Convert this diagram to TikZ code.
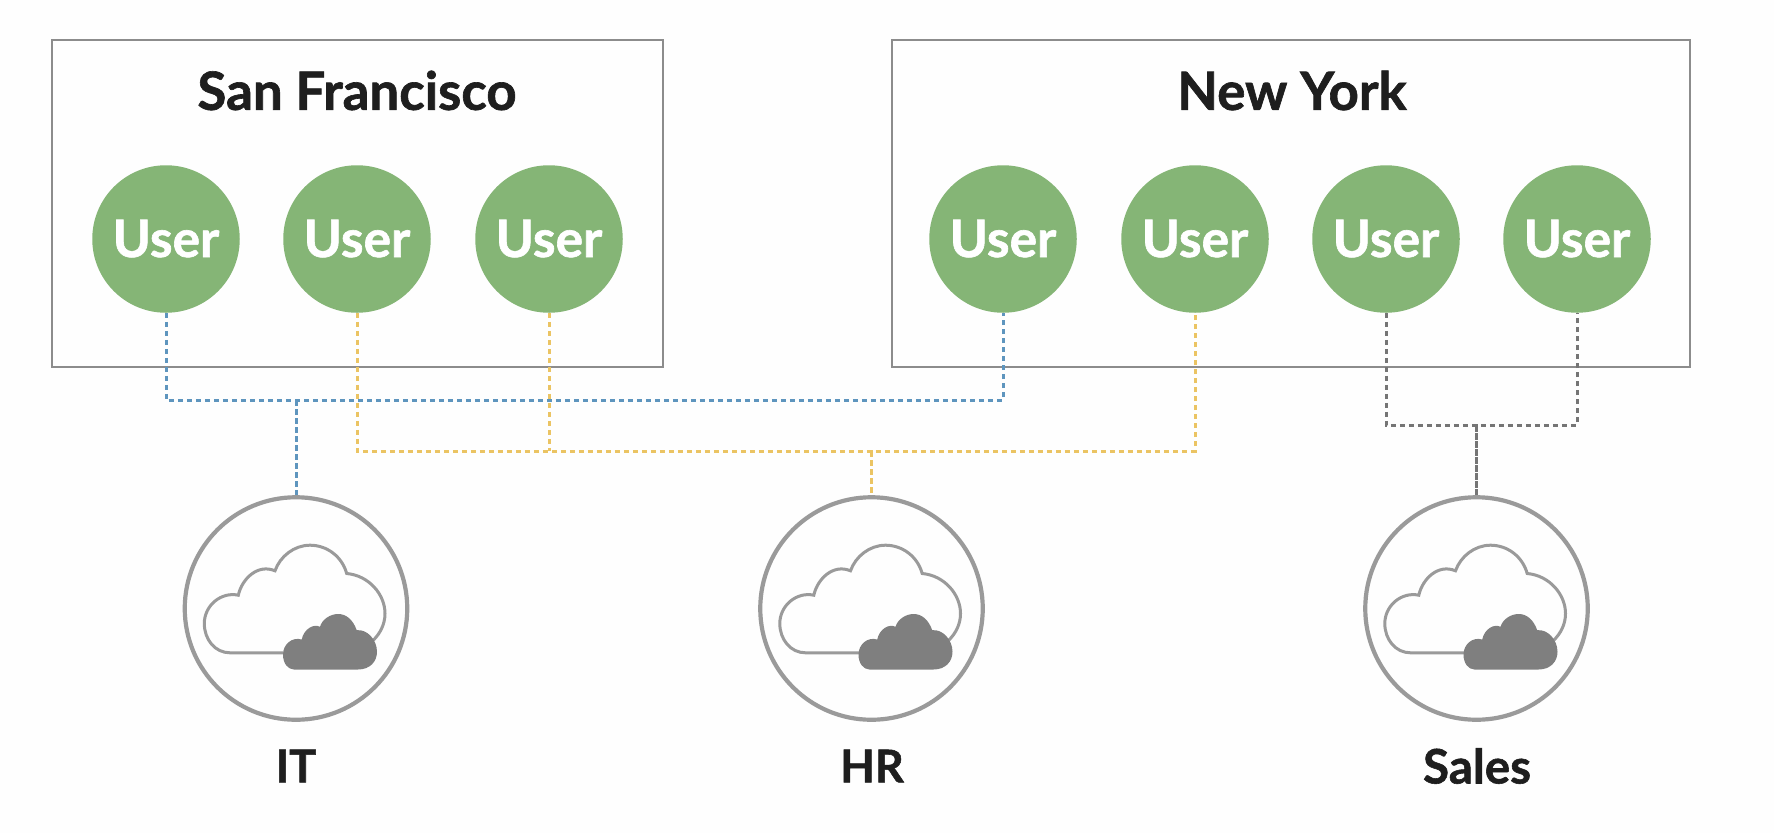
\documentclass[tikz,border=0pt]{standalone}
\usepackage{fontspec}
\setmainfont{Lato}[BoldFeatures={FakeBold=1.2}]
\definecolor{pagebg}{HTML}{FEFEFE}
\definecolor{boxline}{HTML}{8C8C8C}
\definecolor{usergreen}{HTML}{85B576}
\definecolor{inktext}{HTML}{1E1E1E}
\definecolor{ringgray}{HTML}{9A9A9A}
\definecolor{clouddark}{HTML}{7F7F7F}
\definecolor{linkblue}{HTML}{5E95BE}
\definecolor{linkyellow}{HTML}{EBC463}
\definecolor{linkgray}{HTML}{757575}
\newcommand{\usertext}{\raisebox{1.2pt}{User}}
\tikzset{
  x=1pt, y=-1pt,
  sitebox/.style={draw=boxline, line width=2.6pt, fill=none},
  sitetitle/.style={text=inktext, font=\bfseries\fontsize{52.8}{52.8}\selectfont, inner sep=0pt},
  usernode/.style={circle, fill=usergreen, minimum size=147.5pt, inner sep=0pt,
    text=white, font=\bfseries\fontsize{51.5}{51.5}\selectfont},
  groupring/.style={circle, draw=ringgray, line width=4.2pt, fill=none, minimum size=222.5pt, inner sep=0pt},
  grouplabel/.style={text=inktext, font=\bfseries\fontsize{45}{45}\selectfont, inner sep=0pt},
  link/.style={line width=3pt, dash pattern=on 5.5pt off 3.5pt},
  cloudicon/.pic={
    \draw[ringgray, line width=3pt]
      (-12.7,44.3) -- (-66,44.3)
      .. controls (-81,44.3) and (-91.7,31) .. (-91.7,15)
      .. controls (-91.7,-3) and (-75,-17) .. (-57.7,-13.3)
      .. controls (-54,-30) and (-38,-45) .. (-21,-37.7)
      .. controls (-16,-52) and (-2,-63.3) .. (14,-63.3)
      .. controls (31,-63.3) and (46,-52) .. (50.7,-35)
      .. controls (73,-33) and (89,-14) .. (89,5)
      .. controls (89,16) and (84,25) .. (77.3,31.7);
    \fill[clouddark]
      (-2,61) -- (62,61)
      .. controls (74,61) and (81,53) .. (81,43.3)
      .. controls (81,31) and (71,20.5) .. (60.7,21.7)
      .. controls (57,11) and (50,5.5) .. (42.3,5.5)
      .. controls (34,5.5) and (26,11) .. (24,18.3)
      .. controls (18,15) and (8,20) .. (5.7,31)
      .. controls (-4,28) and (-13,36) .. (-13,46)
      .. controls (-13,55) and (-8,61) .. (-2,61) -- cycle;
  },
}
\begin{document}
\begin{tikzpicture}
  \useasboundingbox (0,0) rectangle (1774,833);
  \fill[pagebg] (0,0) rectangle (1774,833);

  % Office boxes with their titles
  \draw[sitebox] (52,40) rectangle (663,367);
  \draw[sitebox] (892,40) rectangle (1690,367);
  \node[sitetitle] (sf) at (357,90.5) {San Francisco};
  \node[sitetitle] (ny) at (1292,90.5) {New York};

  % Users
  \node[usernode] (u1) at (166,239) {\usertext};
  \node[usernode] (u2) at (357,239) {\usertext};
  \node[usernode] (u3) at (549,239) {\usertext};
  \node[usernode] (u4) at (1003,239) {\usertext};
  \node[usernode] (u5) at (1195,239) {\usertext};
  \node[usernode] (u6) at (1386,239) {\usertext};
  \node[usernode] (u7) at (1577,239) {\usertext};

  % Groups: ring, cloud icon and caption
  \node[groupring] (it) at (296,608.5) {};
  \node[groupring] (hr) at (871.5,608.5) {};
  \node[groupring] (sales) at (1476.5,608.5) {};
  \pic at (it.center) {cloudicon};
  \pic at (hr.center) {cloudicon};
  \pic at (sales.center) {cloudicon};
  \node[grouplabel] (itlabel) at (296,766) {IT};
  \node[grouplabel] (hrlabel) at (872,766) {HR};
  \node[grouplabel, font=\bfseries\fontsize{47.5}{47.5}\selectfont] (saleslabel) at (1477,766) {Sales};

  % Bus levels where the dashed links meet
  \coordinate (itbus) at (296,400);
  \coordinate (hrbus) at (871.5,451);
  \coordinate (salesbus) at (1476.5,425);

  % IT links
  \draw[link, linkblue] (u1.south) |- (itbus) -| (u4.south);
  \draw[link, linkblue] (itbus) -- (it.north);

  % HR links
  \draw[link, linkyellow] (u2.south) |- (hrbus) -| (u5.south);
  \draw[link, linkyellow] (u3.south) -- (u3.south |- hrbus);
  \draw[link, linkyellow] (hrbus) -- (hr.north);

  % Sales links
  \draw[link, linkgray] (u6.south) |- (salesbus) -| (u7.south);
  \draw[linkgray, line width=3pt, dash pattern=on 6.5pt off 1.5pt] (salesbus) -- (sales.north);
\end{tikzpicture}
\end{document}
